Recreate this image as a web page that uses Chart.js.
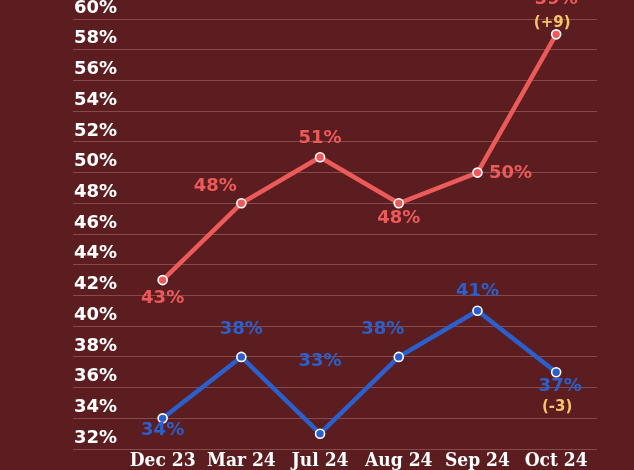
<!DOCTYPE html>
<html>
<head>
<meta charset="utf-8">
<script src="https://cdn.jsdelivr.net/npm/chart.js@4"></script>
<style>
  html, body { margin: 0; padding: 0; background: #5b1d1f; }
  #wrap { width: 634px; height: 470px; position: relative; }
</style>
</head>
<body>
<div id="wrap"><canvas id="pollChart"></canvas></div>
<script>
const categories = ['Dec 23', 'Mar 24', 'Jul 24', 'Aug 24', 'Sep 24', 'Oct 24'];
const redValues = [43, 48, 51, 48, 50, 59];
const blueValues = [34, 38, 33, 38, 41, 37];
const redChange = [null, null, null, null, null, '(+9)'];
const blueChange = [null, null, null, null, null, '(-3)'];
const yTickValues = [32, 34, 36, 38, 40, 42, 44, 46, 48, 50, 52, 54, 56, 58, 60];

// where each value label sits relative to its point [dx, dy]
const redLabelPos = [[0, 18], [-26, -17], [0, -19], [0, 15], [33, 1], [0, -35]];
const blueLabelPos = [[0, 12], [0, -28], [0, -72], [-16, -28], [0, -19], [4, 14]];
const redChangePos = [null, null, null, null, null, [-4, -11]];
const blueChangePos = [null, null, null, null, null, [1, 35]];

const RED = '#ec5a5a';
const BLUE = '#2b5fcc';
const YELLOW = '#f6c56a';

const valueLabels = {
  id: 'valueLabels',
  afterDatasetsDraw(chart) {
    const ctx = chart.ctx;
    ctx.save();
    ctx.textAlign = 'center';
    ctx.textBaseline = 'middle';
    chart.data.datasets.forEach((ds, di) => {
      const meta = chart.getDatasetMeta(di);
      meta.data.forEach((pt, i) => {
        const [dx, dy] = ds.labelPos[i];
        ctx.font = 'bold 18px "DejaVu Sans"';
        ctx.fillStyle = ds.borderColor;
        ctx.fillText(ds.data[i].y + '%', pt.x + dx, pt.y + dy);
        if (ds.change[i]) {
          const [cx, cy] = ds.changePos[i];
          ctx.font = 'bold 15px "DejaVu Sans"';
          ctx.fillStyle = YELLOW;
          ctx.fillText(ds.change[i], pt.x + cx, pt.y + cy);
        }
      });
    });
    ctx.restore();
  }
};

new Chart(document.getElementById('pollChart'), {
  type: 'line',
  data: {
    datasets: [
      {
        data: redValues.map((v, i) => ({ x: i, y: v })),
        borderColor: RED, backgroundColor: RED,
        labelPos: redLabelPos, change: redChange, changePos: redChangePos
      },
      {
        data: blueValues.map((v, i) => ({ x: i, y: v })),
        borderColor: BLUE, backgroundColor: BLUE,
        labelPos: blueLabelPos, change: blueChange, changePos: blueChangePos
      }
    ].map(d => Object.assign(d, {
      borderWidth: 4.5,
      pointRadius: 4.5,
      pointBorderWidth: 1.6,
      pointBorderColor: '#ffffff',
      pointBackgroundColor: d.borderColor,
      tension: 0
    }))
  },
  options: {
    responsive: true,
    maintainAspectRatio: false,
    animation: false,
    layout: { padding: { left: 71, right: 37, top: 19, bottom: -3 } },
    plugins: { legend: { display: false }, tooltip: { enabled: false } },
    scales: {
      x: {
        type: 'linear',
        min: -1.139,
        max: 5.519,
        afterBuildTicks: s => { s.ticks = categories.map((c, i) => ({ value: i })); },
        grid: { display: false, drawTicks: false },
        border: { display: false },
        ticks: {
          autoSkip: false,
          maxRotation: 0,
          padding: 2,
          color: '#ffffff',
          font: { family: '"DejaVu Serif Condensed", "DejaVu Serif"', weight: 'bold', size: 19, lineHeight: 1.05 },
          callback: v => categories[v]
        }
      },
      y: {
        min: 32,
        max: 60,
        afterBuildTicks: s => { s.ticks = yTickValues.map(v => ({ value: v })); },
        grid: { color: 'rgba(255,190,190,0.28)', lineWidth: 1, drawTicks: false },
        border: { display: false },
        ticks: {
          mirror: true,
          padding: 1,
          labelOffset: -11,
          color: '#ffffff',
          font: { family: '"DejaVu Sans"', weight: 'bold', size: 18 },
          callback: v => v + '%'
        }
      }
    }
  },
  plugins: [valueLabels]
});
</script>
</body>
</html>
